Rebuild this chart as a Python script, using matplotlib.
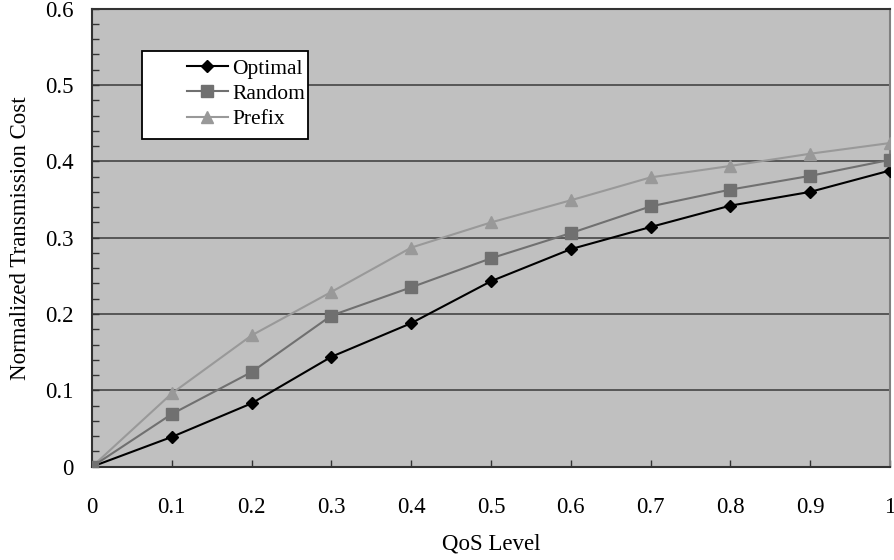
import numpy as np
import matplotlib.pyplot as plt
from matplotlib.patches import Rectangle

qos = [0, 0.1, 0.2, 0.3, 0.4, 0.5, 0.6, 0.7, 0.8, 0.9, 1.0]
optimal = [0, 0.039, 0.083, 0.144, 0.188, 0.243, 0.285, 0.314, 0.342, 0.360, 0.388]
random_ = [0, 0.069, 0.124, 0.198, 0.235, 0.273, 0.306, 0.341, 0.363, 0.381, 0.402]
prefix = [0, 0.096, 0.172, 0.229, 0.287, 0.320, 0.349, 0.379, 0.394, 0.410, 0.424]
xticklabels = ['0', '0.1', '0.2', '0.3', '0.4', '0.5', '0.6', '0.7', '0.8', '0.9', '1']
yticklabels = ['0', '0.1', '0.2', '0.3', '0.4', '0.5', '0.6']

plt.rcParams['font.family'] = ['Liberation Serif', 'DejaVu Serif']

fig = plt.figure(figsize=(8.95, 5.6), dpi=100)
ax = fig.add_axes([0.1028, 0.1666, 0.8916, 0.8179])
ax.set_facecolor('#c0c0c0')

yt = np.arange(0, 0.61, 0.1)
for v in yt[1:-1]:
    ax.axhline(v, color='#3a3a3a', lw=1.1, zorder=1)

ax.plot(qos, optimal, c='black', lw=1.5, marker='D', ms=6.5, label='Optimal', zorder=4)
ax.plot(qos, random_, c='#707070', lw=1.5, marker='s', ms=8.5, label='Random', zorder=5)
ax.plot(qos, prefix, c='#999999', lw=1.5, marker='^', ms=8.5, label='Prefix', zorder=3)

ax.set_xlim(0, 1)
ax.set_ylim(0, 0.6)
ax.set_xticks(qos)
ax.set_xticklabels(xticklabels)
ax.set_yticks(yt)
ax.set_yticklabels(yticklabels)
ax.set_yticks(np.arange(0, 0.601, 0.02), minor=True)
ax.tick_params(axis='both', direction='in', labelsize=16.5, length=5, width=1, color='#333333')
ax.tick_params(axis='y', which='minor', direction='in', length=5, width=1, color='#333333')
ax.tick_params(axis='x', pad=22)
ax.tick_params(axis='y', pad=13)

for s in ['left', 'bottom', 'top']:
    ax.spines[s].set_color('#333333')
    ax.spines[s].set_linewidth(1.5)
ax.spines['right'].set_color('#808080')
ax.spines['right'].set_linewidth(1.5)

ax.set_xlabel('QoS Level', fontsize=16.5, labelpad=11)
ax.set_ylabel('Normalized Transmission Cost', fontsize=16.5, labelpad=10)

# legend box drawn separately, entries sit to the right inside it
box = Rectangle((0.0627, 0.7155), 0.208, 0.192, transform=ax.transAxes,
                facecolor='white', edgecolor='black', lw=1.3, zorder=6)
ax.add_patch(box)
leg = ax.legend(loc='center left', bbox_to_anchor=(0.119, 0.8138), borderaxespad=0,
                frameon=False, fontsize=15.5, handlelength=1.9, borderpad=0,
                labelspacing=0.25, handletextpad=0.2)
leg.set_zorder(7)

plt.savefig('out.png', dpi=100)
